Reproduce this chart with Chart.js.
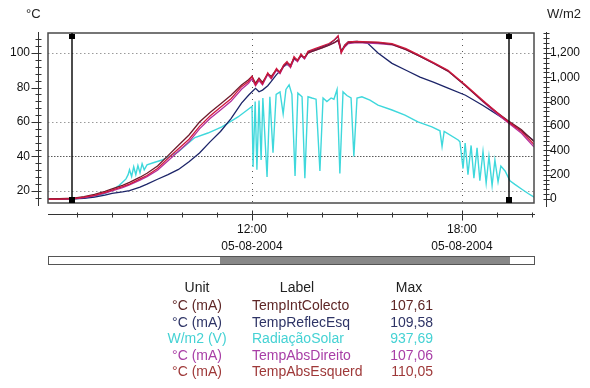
<!DOCTYPE html>
<html><head><meta charset="utf-8">
<script src="https://cdn.jsdelivr.net/npm/chart.js@4/dist/chart.umd.min.js"></script>
<style>
html,body{margin:0;padding:0;background:#fff;}
#wrap{position:relative;width:590px;height:388px;overflow:hidden;font-family:'Liberation Sans',Arial,sans-serif;}
#c{position:absolute;left:0;top:0;}
.t{position:absolute;white-space:nowrap;font-size:14px;line-height:16px;}
#sb{position:absolute;left:48px;top:256px;width:485px;height:7px;border:1px solid #555;background:#fff;}
#sbIn{position:absolute;left:171px;top:0;width:290px;height:7px;background:#888;}
</style></head><body>
<div id="wrap">
<canvas id="c" width="590" height="388"></canvas>
<div class="t" style="left:26px;top:6px;font-size:13px;color:#222">°C</div>
<div class="t" style="left:547px;top:6px;font-size:13px;color:#222">W/m2</div>
<div id="sb"><div id="sbIn"></div></div>
<div id="legend"></div>
</div>
<script>
// ---------- data ----------
const tempTimes = [6.17, 6.5, 6.9, 7.2, 7.5, 7.8, 8.0, 8.3, 8.5, 8.8, 9.0, 9.3, 9.6, 9.9, 10.2, 10.5, 10.8, 11.1, 11.4, 11.7, 11.9, 12.0, 12.1, 12.2, 12.3, 12.45, 12.55, 12.7, 12.8, 12.9, 13.0, 13.1, 13.2, 13.3, 13.4, 13.5, 13.6, 13.8, 14.0, 14.2, 14.35, 14.46, 14.55, 14.65, 14.75, 15.0, 15.3, 15.6, 16.0, 16.4, 16.8, 17.2, 17.6, 18.1, 18.6, 19.0, 19.3, 19.7, 20.06];
const tempIntColecto = [15.4, 15.5, 15.8, 16.7, 18.0, 19.8, 21.2, 23.3, 25.0, 28.0, 30.3, 34.5, 40.5, 46.5, 52.5, 60.0, 65.5, 70.5, 75.5, 81.5, 84.5, 86.5, 82.5, 85.5, 83.0, 88.0, 86.5, 90.5, 89.0, 92.5, 94.5, 93.0, 97.0, 96.0, 98.5, 97.5, 100.0, 101.5, 103.0, 104.5, 106.0, 107.6, 101.0, 104.0, 106.0, 106.5, 106.3, 106.0, 105.0, 102.0, 98.0, 94.0, 89.5, 81.0, 72.0, 65.5, 61.0, 55.5, 48.5];
const tempReflecEsq = [15.2, 15.3, 15.4, 15.8, 16.5, 17.6, 18.6, 19.5, 20.2, 22.3, 24.0, 26.8, 29.5, 32.5, 37.0, 42.0, 48.5, 54.5, 62.0, 71.0, 75.5, 77.5, 79.5, 77.5, 78.5, 81.0, 83.5, 87.5, 89.5, 92.0, 93.5, 92.0, 96.5, 95.5, 98.5, 97.0, 100.5, 102.0, 103.5, 105.0, 107.5, 109.6, 101.0, 104.5, 106.5, 106.8, 105.8, 100.0, 94.0, 90.0, 86.0, 83.0, 79.6, 75.5, 69.6, 64.4, 60.5, 54.8, 49.0];
const tempAbsDireito = [15.2, 15.3, 15.5, 16.2, 17.2, 18.8, 20.0, 22.0, 23.5, 26.3, 28.3, 32.0, 37.5, 43.0, 48.5, 56.0, 62.0, 67.0, 72.0, 79.0, 82.5, 85.0, 81.0, 84.0, 81.5, 87.5, 85.0, 90.0, 88.0, 92.0, 94.0, 91.5, 97.0, 95.0, 98.5, 96.5, 100.0, 101.5, 103.0, 104.5, 106.0, 107.0, 100.5, 103.5, 105.5, 106.0, 105.8, 105.5, 104.8, 102.0, 98.0, 93.8, 89.5, 81.0, 71.8, 64.8, 59.8, 53.5, 45.5];
const tempAbsEsquerd = [15.2, 15.3, 15.6, 16.4, 17.5, 19.2, 20.5, 22.5, 24.0, 27.0, 29.0, 33.0, 39.0, 44.5, 50.0, 57.5, 63.5, 68.5, 73.5, 80.5, 83.5, 86.5, 81.5, 85.0, 82.0, 88.5, 85.5, 91.0, 88.5, 93.0, 95.0, 92.0, 98.0, 95.5, 99.5, 97.0, 101.0, 102.5, 104.0, 105.5, 107.5, 110.0, 100.0, 104.5, 106.5, 106.8, 106.5, 106.3, 105.5, 102.5, 98.5, 94.3, 90.0, 81.5, 72.5, 65.5, 60.5, 54.5, 47.0];

const radTimes = [6.17, 7.0, 7.5, 7.8, 8.0, 8.2, 8.4, 8.46, 8.5, 8.56, 8.62, 8.68, 8.74, 8.8, 8.86, 8.92, 9.0, 9.2, 9.43, 9.7, 9.89, 10.1, 10.37, 10.74, 11.14, 11.6, 11.94, 12.0, 12.03, 12.09, 12.14, 12.2, 12.26, 12.31, 12.43, 12.51, 12.6, 12.69, 12.8, 12.89, 12.97, 13.06, 13.14, 13.23, 13.31, 13.43, 13.51, 13.6, 13.71, 13.83, 13.94, 14.03, 14.14, 14.26, 14.34, 14.43, 14.51, 14.6, 14.71, 14.83, 14.91, 15.0, 15.14, 15.37, 15.6, 16.0, 16.37, 16.74, 17.14, 17.37, 17.43, 17.49, 17.89, 17.94, 18.03, 18.09, 18.17, 18.26, 18.34, 18.43, 18.51, 18.6, 18.69, 18.77, 18.86, 18.94, 19.03, 19.11, 19.23, 19.37, 19.51, 19.71, 19.89, 20.06];
const radiacaoSolar = [0, 3, 20, 45, 74, 110, 165, 200, 240, 185, 265, 200, 275, 215, 290, 240, 280, 300, 320, 360, 386, 440, 505, 542, 592, 674, 748, 760, 263, 800, 240, 810, 320, 830, 180, 840, 380, 860, 880, 700, 900, 937.7, 860, 190, 870, 840, 170, 840, 830, 820, 230, 830, 800, 830, 820, 900, 210, 880, 850, 830, 350, 830, 840, 812, 772, 731, 690, 633, 592, 560, 430, 555, 485, 470, 250, 460, 200, 440, 170, 420, 150, 390, 130, 350, 110, 320, 140, 270, 230, 150, 120, 80, 45, 15];

const leftTicks = [20, 40, 60, 80, 100];
const rightTicks = [0, 200, 400, 600, 800, 1000, 1200];
const rightTickLabels = ['0', '200', '400', '600', '800', '1,000', '1,200'];
const xTickHours = [7, 8, 9, 10, 11, 12, 13, 14, 15, 16, 17, 18, 19, 20];
const xLabelHours = [12, 18];
const xLabelTimes = ['12:00', '18:00'];
const xLabelDates = ['05-08-2004', '05-08-2004'];
const cursorTimes = [6.87, 19.34];

const legendUnits = ['°C (mA)', '°C (mA)', 'W/m2 (V)', '°C (mA)', '°C (mA)'];
const seriesLabels = ['TempIntColecto', 'TempReflecEsq', 'RadiaçãoSolar', 'TempAbsDireito', 'TempAbsEsquerd'];
const seriesMax = ['107,61', '109,58', '937,69', '107,06', '110,05'];

// ---------- styles ----------
const FONT = "'Liberation Sans', Arial, sans-serif";
const lineColors = ['#6e1c2c', '#1c2468', '#3fd8dc', '#b52f9c', '#d0183e'];
const textColors = ['#5e2626', '#2e3466', '#45d2d4', '#a83ea6', '#9e3838'];

const pts = (xs, ys) => xs.map((t, i) => ({x: t, y: ys[i]}));
const tempSeries = [tempIntColecto, tempReflecEsq, null, tempAbsDireito, tempAbsEsquerd];
const drawOrder = [2, 4, 5, 3, 1];

const datasets = seriesLabels.map((lab, i) => ({
  label: lab,
  data: i === 2 ? pts(radTimes, radiacaoSolar) : pts(tempTimes, tempSeries[i]),
  yAxisID: i === 2 ? 'y2' : 'y',
  borderColor: lineColors[i],
  borderWidth: i === 2 ? 1.4 : 1.3,
  pointRadius: 0,
  tension: 0,
  fill: false,
  order: drawOrder[i]
}));

function seg(ctx, x1, y1, x2, y2) { ctx.beginPath(); ctx.moveTo(x1, y1); ctx.lineTo(x2, y2); ctx.stroke(); }

const decor = {
  id: 'decor',
  beforeDatasetsDraw(chart) {
    const {ctx, chartArea: a, scales: {x, y}} = chart;
    ctx.save();
    ctx.lineWidth = 1;
    leftTicks.forEach(v => {
      if (v === 80) return;
      const py = Math.round(y.getPixelForValue(v)) + 0.5;
      if (v === 40) { ctx.strokeStyle = '#5a5a5a'; ctx.setLineDash([1.5, 1.5]); }
      else { ctx.strokeStyle = '#9a9a9a'; ctx.setLineDash([1.5, 2.5]); }
      seg(ctx, a.left, py, a.right, py);
    });
    ctx.strokeStyle = '#555'; ctx.setLineDash([1, 5]);
    xLabelHours.forEach(h => {
      const px = Math.round(x.getPixelForValue(h)) + 0.5;
      seg(ctx, px, a.top, px, a.bottom);
    });
    ctx.restore();
  },
  afterDatasetsDraw(chart) {
    const {ctx, chartArea: a, scales: {x, y, y2}} = chart;
    ctx.save();
    ctx.strokeStyle = '#4a4a4a'; ctx.lineWidth = 1.5;
    ctx.strokeRect(a.left, a.top, a.right - a.left, a.bottom - a.top);
    ctx.lineWidth = 1; ctx.strokeStyle = '#333';
    // left axis
    const lx = a.left - 9.5;
    seg(ctx, lx, a.top - 1, lx, a.bottom + 3);
    for (let v = 16; v <= 108; v += 4) {
      const py = Math.round(y.getPixelForValue(v)) + 0.5;
      const major = v % 20 === 0;
      seg(ctx, major ? lx - 7 : lx - 3, py, lx + 3, py);
    }
    // right axis
    const rx = a.right + 12.5;
    seg(ctx, rx, a.top - 1, rx, a.bottom + 4);
    for (let v = 0; v <= 1360; v += 40) {
      const py = Math.round(y2.getPixelForValue(v)) + 0.5;
      const major = v % 200 === 0;
      seg(ctx, rx - 3, py, major ? rx + 5 : rx + 3, py);
    }
    // x axis
    const bx = a.bottom + 11.5;
    seg(ctx, a.left, bx, a.right + 1, bx);
    xTickHours.forEach(h => {
      const px = Math.round(x.getPixelForValue(h)) + 0.5;
      const major = xLabelHours.includes(h);
      seg(ctx, px, major ? bx - 4 : bx - 2, px, major ? bx + 6 : bx + 3);
    });
    // cursors
    ctx.strokeStyle = '#111'; ctx.fillStyle = '#000'; ctx.lineWidth = 1.5;
    cursorTimes.forEach(t => {
      const px = Math.round(x.getPixelForValue(t));
      seg(ctx, px, a.top, px, a.bottom);
      ctx.fillRect(px - 3, a.top + 1, 6, 5);
      ctx.fillRect(px - 3, a.bottom - 6, 6, 6);
    });
    ctx.restore();
  }
};

new Chart(document.getElementById('c'), {
  type: 'line',
  data: {datasets},
  options: {
    responsive: false, animation: false, devicePixelRatio: 1,
    layout: {padding: {top: 33, left: 0, right: 0, bottom: 0}},
    plugins: {legend: {display: false}, tooltip: {enabled: false}},
    scales: {
      x: {
        type: 'linear', min: 6.171, max: 20.057,
        afterFit: s => { s.height = 185; },
        afterBuildTicks: s => { s.ticks = xTickHours.map(v => ({value: v})); },
        grid: {display: false, drawTicks: false}, border: {display: false},
        ticks: {
          autoSkip: false, maxRotation: 0, minRotation: 0, padding: 18, color: '#111',
          font: {family: FONT, size: 12, lineHeight: 1.42},
          callback: v => { const i = xLabelHours.indexOf(v); return i < 0 ? '' : [xLabelTimes[i], xLabelDates[i]]; }
        }
      },
      y: {
        position: 'left', min: 13.04, max: 111.6,
        afterFit: s => { s.width = 48; },
        afterBuildTicks: s => { s.ticks = leftTicks.map(v => ({value: v})); },
        grid: {display: false, drawTicks: false}, border: {display: false},
        ticks: {padding: 18, color: '#111', font: {family: FONT, size: 12}, callback: v => String(v)}
      },
      y2: {
        position: 'right', min: -33, max: 1364,
        afterFit: s => { s.width = 56; },
        afterBuildTicks: s => { s.ticks = rightTicks.map(v => ({value: v})); },
        grid: {display: false, drawTicks: false}, border: {display: false},
        ticks: {padding: 16, color: '#111', font: {family: FONT, size: 12}, callback: (v, i) => rightTickLabels[i]}
      }
    }
  },
  plugins: [decor]
});

// legend table
const leg = document.getElementById('legend');
function cell(text, left, top, width, align, color) {
  const d = document.createElement('div');
  d.className = 't';
  d.textContent = text;
  d.style.left = left + 'px'; d.style.top = top + 'px';
  d.style.width = width + 'px'; d.style.textAlign = align; d.style.color = color;
  leg.appendChild(d);
}
cell('Unit', 147, 279, 100, 'center', '#222');
cell('Label', 247, 279, 100, 'center', '#222');
cell('Max', 359, 279, 100, 'center', '#222');
seriesLabels.forEach((lab, i) => {
  const top = 297 + i * 16.5;
  cell(legendUnits[i], 147, top, 100, 'center', textColors[i]);
  cell(lab, 252, top, 130, 'left', textColors[i]);
  cell(seriesMax[i], 363, top, 70, 'right', textColors[i]);
});
</script>
</body></html>
